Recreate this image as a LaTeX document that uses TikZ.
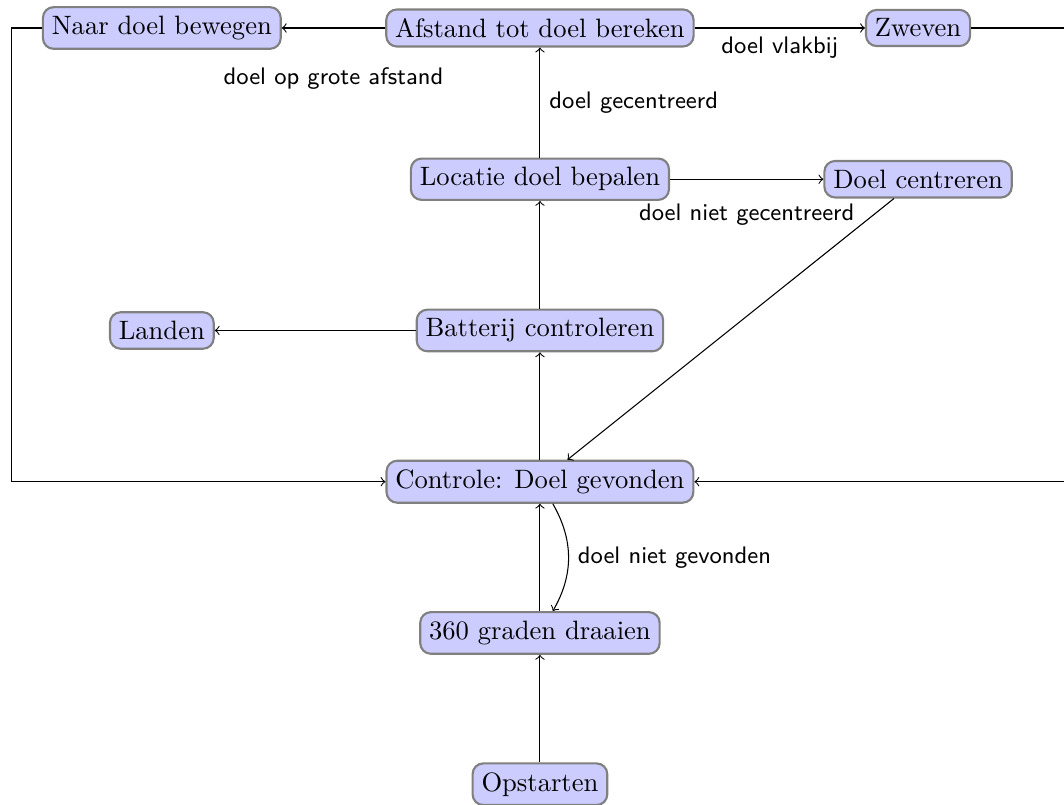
\documentclass[tikz,border=0pt]{standalone}
\usepackage{tikz}
\usetikzlibrary{arrows, positioning}

\begin{document}
\begin{tikzpicture}[->, stap/.style={draw=gray, thick, rounded corners, fill=blue!20}, lbl/.style={font=\small\sffamily}]
\useasboundingbox (-7.14,-0.27) rectangle (6.93,10.37);

\node[stap] (opstarten) at (0,0) {Opstarten};
\node[stap] (draaien) at (0,2) {360 graden draaien};
\node[stap] (controle) at (0,4) {Controle: Doel gevonden};
\node[stap] (batterij) at (0,6) {Batterij controleren};
\node[stap] (landen) at (-5,6) {Landen};
\node[stap] (locatie) at (0,8) {Locatie doel bepalen};
\node[stap] (centreren) at (5,8) {Doel centreren};
\node[stap] (afstand) at (0,10) {Afstand tot doel bereken};
\node[stap] (bewegen) at (-5,10) {Naar doel bewegen};
\node[stap] (zweven) at (5,10) {Zweven};

\draw (opstarten) -- (draaien);
\draw (draaien) -- (controle);
\draw ([xshift=0.17cm]controle.south) to[bend left] node[lbl, right] {doel niet gevonden} ([xshift=0.17cm]draaien.north);
\draw (controle) -- (batterij);
\draw (batterij) -- (landen);
\draw (batterij) -- (locatie);
\draw (locatie) -- node[lbl, below=0.2cm] {doel niet gecentreerd} (centreren);
\draw (centreren) -- (controle);
\draw (locatie) -- node[lbl, right] {doel gecentreerd} (afstand);
\draw (afstand) -- node[lbl, below=0.4cm] {doel op grote afstand} (bewegen);
\draw (afstand) -- node[lbl, below] {doel vlakbij} (zweven);
\draw (bewegen.west) -- ++(-0.4,0) |- (controle.west);
\draw (zweven.east) -- ++(1.5,0) |- (controle.east);

\end{tikzpicture}
\end{document}
